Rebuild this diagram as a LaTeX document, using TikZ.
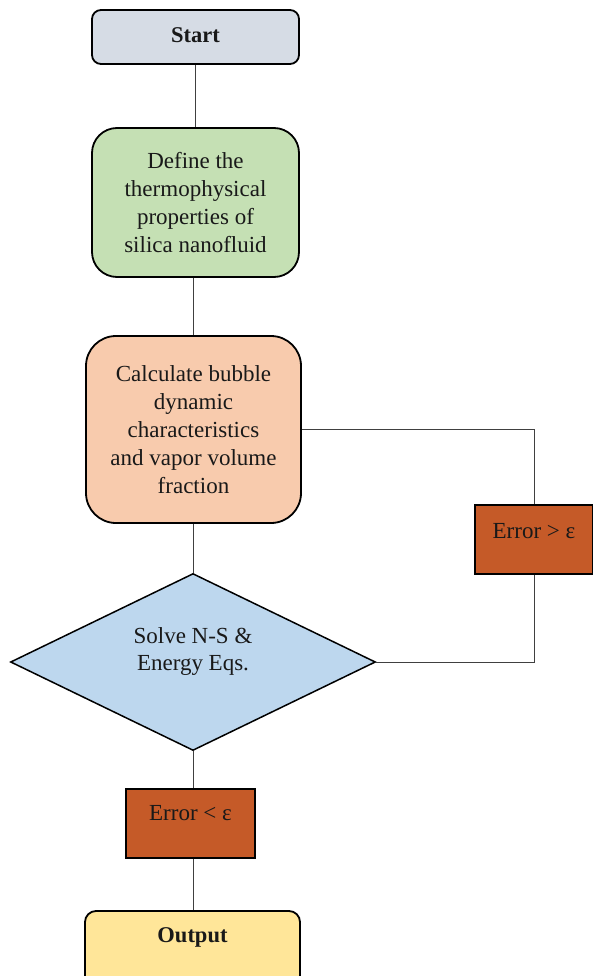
\documentclass[tikz,border=0pt]{standalone}
\usepackage{fontspec}
\setmainfont{Liberation Serif}
\usetikzlibrary{shapes.geometric}
\definecolor{startc}{HTML}{D6DCE5}
\definecolor{greenc}{HTML}{C5E0B4}
\definecolor{orangec}{HTML}{F8CBAD}
\definecolor{bluec}{HTML}{BDD7EE}
\definecolor{errc}{HTML}{C55A28}
\definecolor{outc}{HTML}{FFE699}
\definecolor{linec}{HTML}{404040}
\begin{document}
\begin{tikzpicture}[x=1pt,y=-1pt,
  box/.style={draw=black, line width=1.8pt, align=center, inner sep=0pt,
    font=\fontsize{23}{28}\selectfont, text=black!90},
  bbox/.style={box, font=\fontsize{22.5}{27}\selectfont\bfseries},
  conn/.style={draw=linec, line width=1pt}]
\useasboundingbox (0,0) rectangle (592,976);
\node[bbox, fill=startc, rounded corners=9pt, minimum width=207pt, minimum height=54pt] (start) at (195.5,37) {\raisebox{4pt}{Start}};
\node[box, fill=greenc, rounded corners=25pt, minimum width=207pt, minimum height=149pt] (green) at (195.5,202.5) {Define the\\thermophysical\\properties of\\silica nanofluid};
\node[box, fill=orangec, rounded corners=30pt, minimum width=215pt, minimum height=187pt] (orange) at (193.5,429.5) {Calculate bubble\\dynamic\\characteristics\\and vapor volume\\fraction};
\node[draw=black, line width=1.5pt, fill=bluec, shape=diamond, inner sep=0pt, minimum width=365pt, minimum height=177pt] (diamond) at (193,662) {};
\node[font=\fontsize{23}{27}\selectfont, align=center, text=black!90] (dtext) at (193,651) {Solve N-S \&\\Energy Eqs.};
\node[box, fill=errc, minimum width=118pt, minimum height=69pt] (errgt) at (534,539.5) {\raisebox{18pt}{Error > ε}};
\node[box, fill=errc, minimum width=129pt, minimum height=69pt] (errlt) at (190.5,823.5) {\raisebox{21pt}{Error < ε}};
\node[bbox, fill=outc, rounded corners=11pt, minimum width=215pt, minimum height=79pt] (output) at (192.5,950.5) {\raisebox{30pt}{Output}};
\draw[conn] (start.south) -- (green.north);
\draw[conn] (orange.north |- green.south) -- (orange.north);
\draw[conn] (diamond.north |- orange.south) -- (diamond.north);
\draw[conn] (diamond.south) -- (diamond.south |- errlt.north);
\draw[conn] (diamond.south |- errlt.south) -- (diamond.south |- output.north);
\draw[conn] (orange.east) -- (orange.east -| errgt.north) -- (errgt.north);
\draw[conn] (errgt.south) -- (errgt.south |- diamond.east) -- (diamond.east);
\end{tikzpicture}
\end{document}
